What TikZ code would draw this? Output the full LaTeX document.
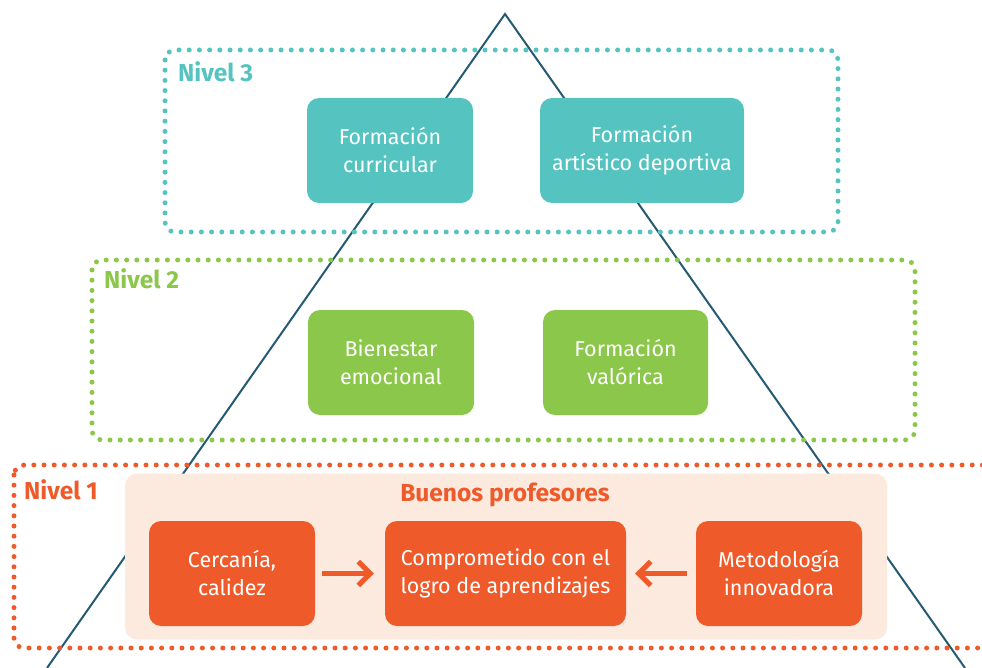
\documentclass[tikz,border=0pt]{standalone}
\usepackage{fontspec}
\setmainfont{Fira Sans}
\usetikzlibrary{arrows.meta}
\definecolor{cteal}{HTML}{55C4C1}
\definecolor{cgreen}{HTML}{8BC74A}
\definecolor{corange}{HTML}{EF5A2B}
\definecolor{cpink}{HTML}{FCEADF}
\definecolor{cline}{HTML}{245A72}
\tikzset{
  box/.style={rounded corners=12pt, minimum height=105pt, align=center, text=white,
    font=\fontsize{21.5}{28}\selectfont, inner sep=0pt},
  tealbox/.style={box, fill=cteal},
  greenbox/.style={box, fill=cgreen},
  orangebox/.style={box, fill=corange},
  dotframe/.style={line width=5pt, line cap=round, dash pattern=on 0pt off 10.2pt, rounded corners=10pt},
  lvl/.style={font=\fontsize{24.5}{28}\selectfont\bfseries, anchor=west, inner sep=0pt},
  bigarrow/.style={draw=corange, line width=5pt, -{Straight Barb[length=12pt,width=24pt,line width=5pt]}}
}
\begin{document}
\begin{tikzpicture}[x=1pt,y=-1pt]
\useasboundingbox (0,0) rectangle (982,668);
\clip (0,0) rectangle (982,668);
% pyramid
\coordinate (apex) at (505,14);
\coordinate (bl) at (47,668);
\coordinate (br) at (965,668);
\draw[cline, line width=2pt] (bl) -- (apex) -- (br);
% level frames
\draw[dotframe, draw=cteal] (165,50) rectangle (838,232);
\draw[dotframe, draw=cgreen] (92,260) rectangle (915,440);
\draw[dotframe, draw=corange] (14,465) rectangle (1000,648);
\node[lvl, text=cteal] (n3) at (178,72) {Nivel 3};
\node[lvl, text=cgreen] (n2) at (104,279) {Nivel 2};
\node[lvl, text=corange] (n1) at (24,490) {Nivel 1};
% level 3
\node[tealbox, minimum width=166pt] (fc) at (390,150.5) {Formación\\curricular};
\node[tealbox, minimum width=204pt] (fa) at (642,150.5) {Formación\\artístico deportiva};
% level 2
\node[greenbox, minimum width=166pt] (be) at (391,362.5) {Bienestar\\emocional};
\node[greenbox, minimum width=165pt] (fv) at (625.5,362.5) {Formación\\valórica};
% level 1
\node[fill=cpink, rounded corners=12pt, minimum width=762pt, minimum height=166pt, inner sep=0pt] (bg) at (506,556.5) {};
\node[font=\fontsize{24.5}{28}\selectfont\bfseries, text=corange, inner sep=0pt] (bp) at (505,495) {Buenos profesores};
\node[orangebox, minimum width=166pt] (cc) at (232,573.5) {Cercanía,\\calidez};
\node[orangebox, minimum width=241pt] (cl) at (505.5,573.5) {Comprometido con el\\logro de aprendizajes};
\node[orangebox, minimum width=166pt] (mi) at (779,573.5) {Metodología\\innovadora};
\draw[bigarrow, shorten <=7pt, shorten >=11pt] (cc.east) -- (cl.west);
\draw[bigarrow, shorten <=9pt, shorten >=9pt] (mi.west) -- (cl.east);
\end{tikzpicture}
\end{document}
